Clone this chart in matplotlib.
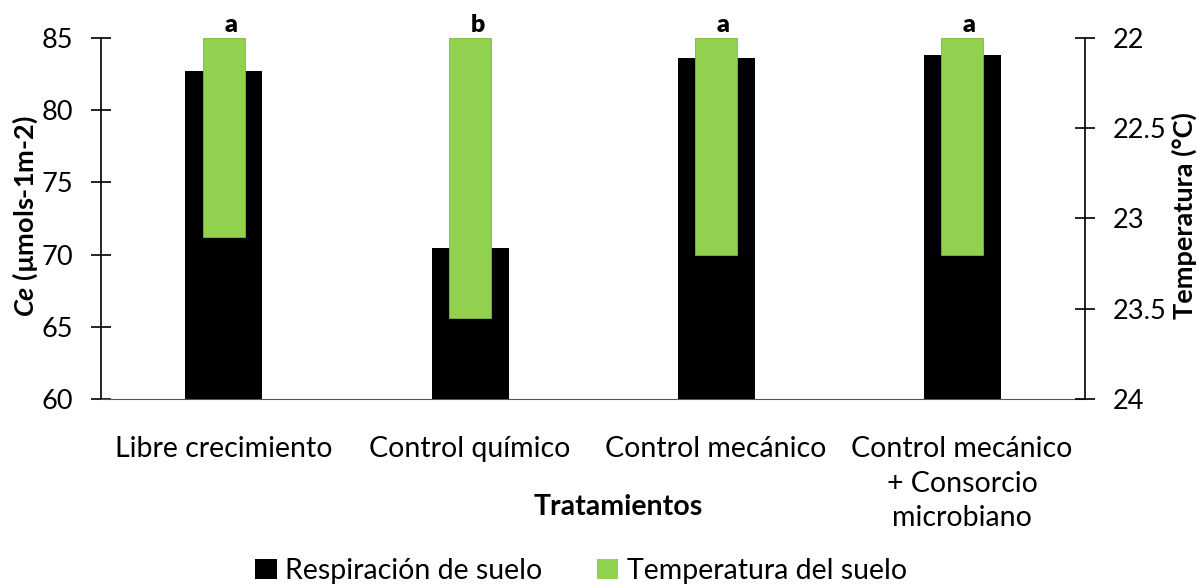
import matplotlib
matplotlib.use('Agg')
import matplotlib.pyplot as plt
from matplotlib.patches import Patch
import numpy as np

plt.rcParams['font.family'] = ['Lato', 'DejaVu Sans']
plt.rcParams['mathtext.fontset'] = 'custom'
plt.rcParams['mathtext.bfit'] = 'Lato:bold:italic'
plt.rcParams['mathtext.it'] = 'Lato:italic'
plt.rcParams['mathtext.rm'] = 'Lato'

categorias = ["Libre crecimiento", "Control químico", "Control mecánico",
              "Control mecánico\n+ Consorcio\nmicrobiano"]
respiracion = [82.75, 70.45, 83.65, 83.8]
temperatura = [23.1, 23.55, 23.2, 23.2]
letras = ["a", "b", "a", "a"]

negro = "#000000"
verde = "#92D050"
fs = 19.5
fs_txt = 20.5

fig = plt.figure(figsize=(11.98, 5.85), dpi=100)
ax = fig.add_axes([0.0843, 0.318, 0.8214, 0.617])
ax2 = ax.twinx()

x = np.arange(len(categorias))
ax.bar(x, respiracion, width=0.313, bottom=0, color=negro, zorder=2)
ax.set_ylim(60, 85)
ax.set_xlim(-0.5, len(categorias) - 0.5)
ax.set_yticks([60, 65, 70, 75, 80, 85])

t0 = 22
ax2.bar(x, [t - t0 for t in temperatura], width=0.167, bottom=t0,
        color=verde, edgecolor="#7fb542", linewidth=0.6, zorder=3)
ax2.set_ylim(24, 22)
ax2.set_yticks([22, 22.5, 23, 23.5, 24])
ax2.set_yticklabels(["22", "22.5", "23", "23.5", "24"])

for xi, l in zip(x, letras):
    ax2.text(xi + 0.03, 21.99, l, ha='center', va='bottom', fontsize=18,
             fontweight='heavy')

for a in (ax, ax2):
    a.spines['top'].set_visible(False)
    a.tick_params(axis='y', direction='inout', length=14, width=1.2,
                  labelsize=fs, pad=13)
ax.spines['left'].set_linewidth(1.2)
ax2.spines['right'].set_linewidth(1.2)
ax.spines['bottom'].set_color('#555555')
ax2.spines['bottom'].set_visible(False)
ax.spines['right'].set_visible(False)
ax2.spines['left'].set_visible(False)

ax.set_xticks(x)
ax.set_xticklabels(categorias, fontsize=fs_txt, linespacing=1.4)
ax.tick_params(axis='x', length=0, pad=27)

fig.text(0.021, 0.63, r"$\mathbfit{Ce}$ (µmols-1m-2)", rotation=90,
         ha='center', va='center', fontsize=fs, fontweight='bold')
fig.text(0.989, 0.632, "Temperatura (°C)", rotation=90, ha='center',
         va='center', fontsize=fs, fontweight='bold')
fig.text(0.516, 0.134, "Tratamientos", ha='center', va='center',
         fontsize=fs_txt, fontweight='bold')

handles = [Patch(facecolor=negro, label="Respiración de suelo"),
           Patch(facecolor=verde, label="Temperatura del suelo")]
fig.legend(handles=handles, loc='center', bbox_to_anchor=(0.485, 0.024),
           ncol=2, frameon=False, fontsize=fs_txt, handlelength=0.75,
           handleheight=0.75, handletextpad=0.3, columnspacing=1.9)

fig.savefig("out.png", dpi=100)
